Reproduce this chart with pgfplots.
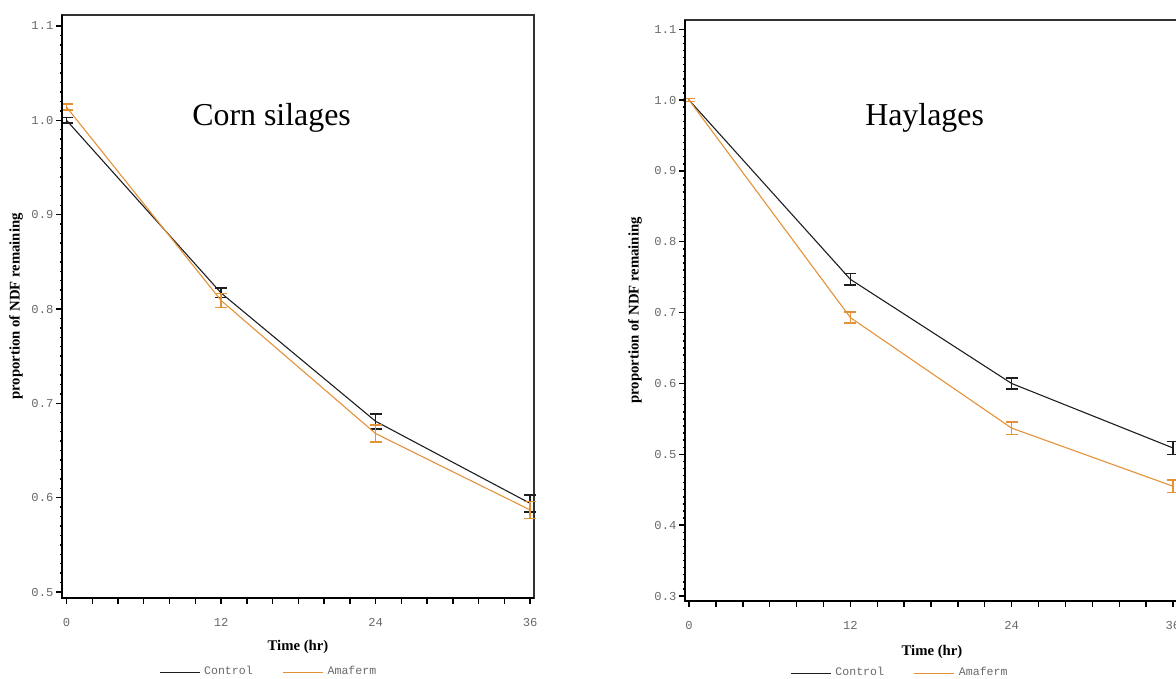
\documentclass[border=0pt]{standalone}
\usepackage{fontspec}
\setmainfont{Liberation Serif}
\newfontfamily\monofont{Liberation Mono}
\usepackage{pgfplots}
\pgfplotsset{compat=1.18}

\definecolor{ctrl}{RGB}{30,30,30}
\definecolor{ama}{RGB}{228,146,56}
\definecolor{ticktext}{RGB}{105,105,105}
\definecolor{frame}{RGB}{50,50,50}

% corn silages
\pgfplotstableread{
t   y      e
0   1.000  0.003
12  0.817  0.005
24  0.681  0.008
36  0.594  0.009
}\cornctrl
\pgfplotstableread{
t   y      e
0   1.014  0.003
12  0.809  0.0075
24  0.668  0.009
36  0.587  0.009
}\cornama
% haylages
\pgfplotstableread{
t   y      e
0   1.000  0.002
12  0.747  0.008
24  0.600  0.008
36  0.509  0.009
}\hayctrl
\pgfplotstableread{
t   y      e
0   1.000  0.002
12  0.693  0.008
24  0.537  0.009
36  0.455  0.009
}\hayama

\pgfplotsset{
  ndfplot/.style={
    scale only axis,
    clip=false,
    axis line style={line width=0.7bp, frame},
    tick align=outside,
    xtick pos=lower, ytick pos=left,
    major tick length=2.8bp,
    minor tick length=1.2bp,
    tick style={line width=0.7bp, black},
    xtick={0,2,...,36},
    xticklabels={0,,,,,,12,,,,,,24,,,,,,36},
    minor y tick num=9,
    /pgf/number format/assume math mode=true,
    yticklabel style={xshift=2bp, /pgf/number format/.cd, fixed, fixed zerofill, precision=1},
    tick label style={font=\monofont\fontsize{6.1}{6.5}\selectfont, text=ticktext},
    xticklabel style={yshift=-4bp},
    label style={font=\bfseries\fontsize{7.4}{8}\selectfont},
    xlabel={Time (hr)},
    ylabel={proportion of NDF remaining},
    legend columns=2,
    legend style={draw=none, fill=none, font=\monofont\fontsize{5.8}{6}\selectfont,
      text=ticktext, anchor=center,
      /tikz/every even column/.append style={column sep=13bp}},
    legend image code/.code={\draw[#1, line width=0.5bp] (0bp,0bp) -- (20bp,0bp);},
    every axis plot/.append style={line width=0.55bp},
    error bars/y dir=both,
    error bars/y explicit,
    error bars/error mark=-,
    error bars/error mark options={rotate=90, mark size=3bp, line width=0.8bp},
    error bars/error bar style={line width=0.7bp},
  }
}

\begin{document}
\begin{tikzpicture}

\begin{axis}[ndfplot,
  at={(31bp,40.5bp)}, anchor=south west,
  width=236bp, height=291.5bp,
  xmin=-0.35, xmax=36.3,
  ymin=0.4937, ymax=1.1116,
  ytick={0.5,0.6,...,1.1},
  xlabel style={at={(axis description cs:0.5,-0.084)}, anchor=center},
  ylabel style={at={(axis description cs:-0.0975,0.5)}, anchor=center},
  legend style={at={(axis description cs:0.44,-0.127)}},
]
\addplot[ctrl, error bars/error bar style={ctrl}] table[x=t, y=y, y error=e] {\cornctrl};
\addlegendentry{Control}
\addplot[ama, error bars/error bar style={ama}] table[x=t, y=y, y error=e] {\cornama};
\addlegendentry{Amaferm}
\draw[line width=1.1bp, black] (rel axis cs:0,1) -- (rel axis cs:0,0) -- (rel axis cs:1,0);
\node[font=\fontsize{16}{18}\selectfont, anchor=base] at (axis description cs:0.444,0.81) {Corn silages};
\end{axis}

\begin{axis}[ndfplot,
  at={(342.5bp,39bp)}, anchor=south west,
  width=246bp, height=290.5bp,
  xmin=-0.3, xmax=36.3,
  ymin=0.293, ymax=1.113,
  ytick={0.3,0.4,...,1.1},
  xlabel style={at={(axis description cs:0.502,-0.088)}, anchor=center},
  ylabel style={at={(axis description cs:-0.1016,0.5)}, anchor=center},
  legend style={at={(axis description cs:0.439,-0.124)}},
]
\addplot[ctrl, error bars/error bar style={ctrl}] table[x=t, y=y, y error=e] {\hayctrl};
\addlegendentry{Control}
\addplot[ama, error bars/error bar style={ama}] table[x=t, y=y, y error=e] {\hayama};
\addlegendentry{Amaferm}
\draw[line width=1.1bp, black] (rel axis cs:0,1) -- (rel axis cs:0,0) -- (rel axis cs:1,0);
\node[font=\fontsize{16}{18}\selectfont, anchor=base] at (axis description cs:0.487,0.818) {Haylages};
\end{axis}

\pgfresetboundingbox
\path[use as bounding box] (0bp,0bp) rectangle (588bp,339.5bp);
\end{tikzpicture}
\end{document}
